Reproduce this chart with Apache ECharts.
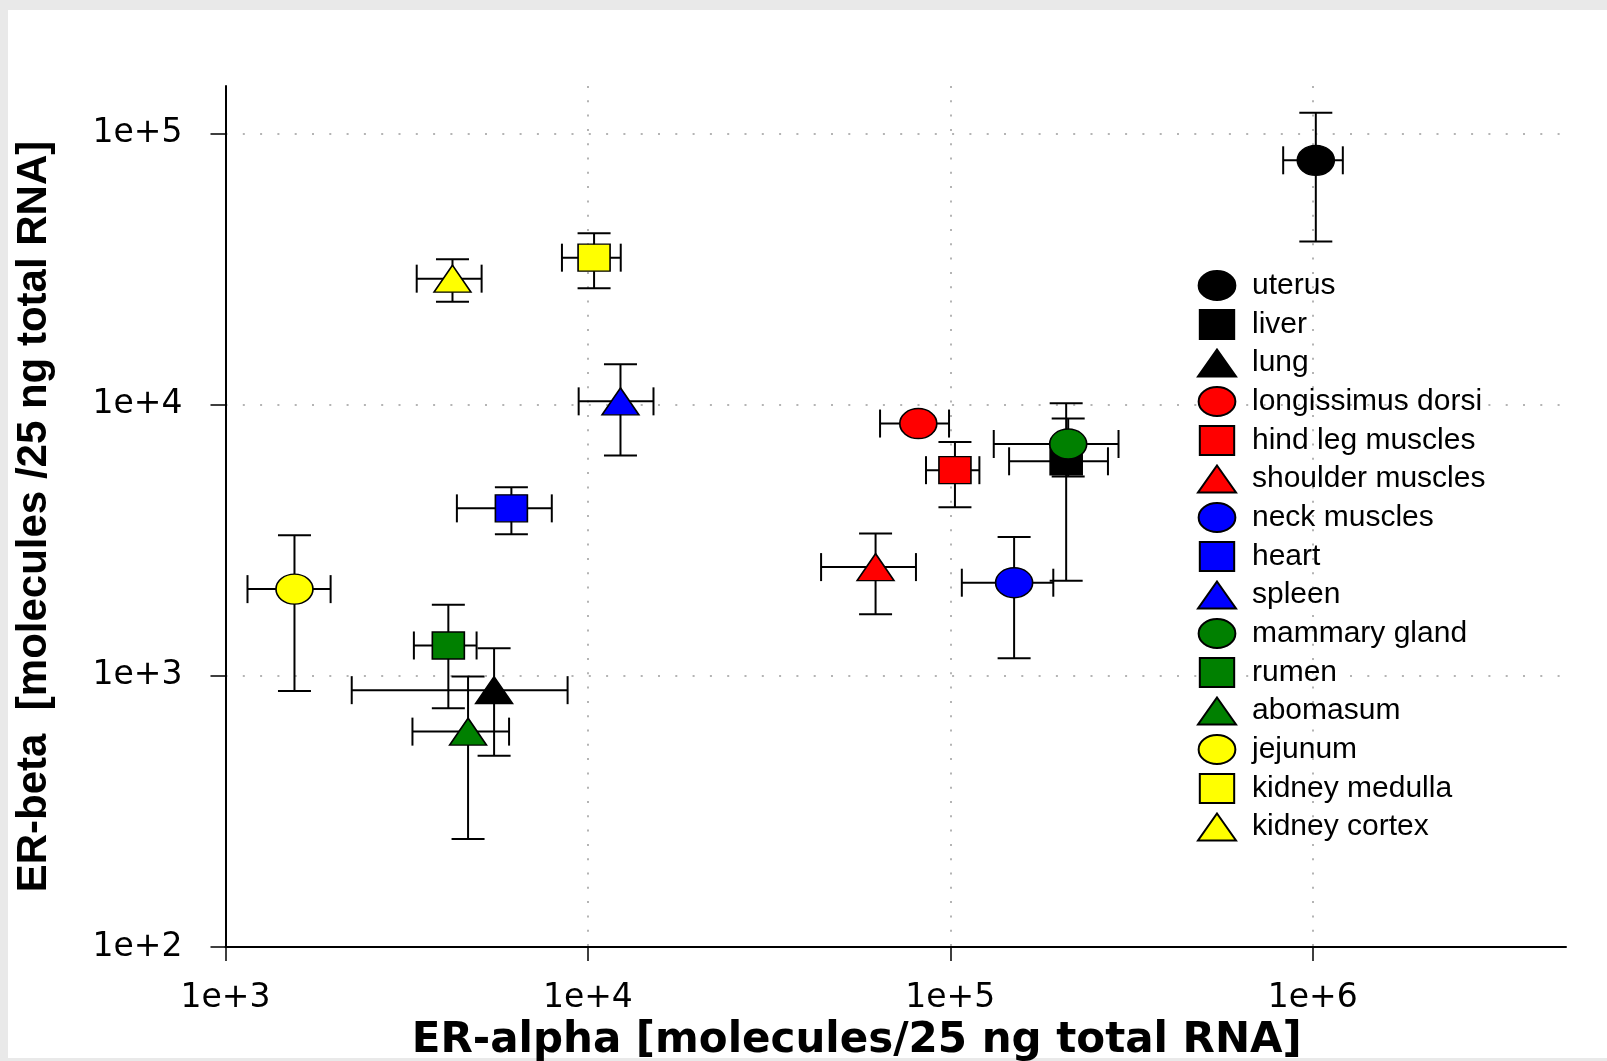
<!DOCTYPE html>
<html>
<head>
<meta charset="utf-8">
<title>ER-alpha vs ER-beta expression</title>
<script src="https://cdn.jsdelivr.net/npm/echarts@6/dist/echarts.min.js"></script>
<style>
  html, body { margin: 0; padding: 0; width: 1607px; height: 1061px; background: #e9e9e9; overflow: hidden; }
  #panel { position: absolute; left: 8px; top: 10px; width: 1599px; height: 1048px; background: #ffffff; }
  #chart { position: absolute; left: 0; top: 0; width: 1607px; height: 1061px; }
</style>
</head>
<body>
<div id="panel"></div>
<div id="chart"></div>
<script>
// Tissues, in legend order
const tissues = [
  'uterus', 'liver', 'lung',
  'longissimus dorsi', 'hind leg muscles', 'shoulder muscles',
  'neck muscles', 'heart', 'spleen',
  'mammary gland', 'rumen', 'abomasum',
  'jejunum', 'kidney medulla', 'kidney cortex'
];

// ER-alpha mean and SD [molecules / 25 ng total RNA]
const erAlpha   = [1020000, 208800, 5510, 81600, 103000, 62200, 150000, 6150, 12300, 211500, 4120, 4670, 1550, 10400, 4230];
const erAlphaSd = [191000,  63500,  3280, 17600, 17300,  18200, 42400,  1800, 2870,  79700,  810,  1390, 400,  1920,  860];

// ER-beta mean and SD [molecules / 25 ng total RNA]
const erBeta    = [79800, 6190, 886, 8530, 5740, 2520, 2207, 4150, 10300, 7170, 1295, 623, 2090, 34900, 29200];
const erBetaSd  = [39800, 3945, 378, 500,  1550, 830,  1045, 820,  3800,  1730, 535,  373, 1210, 8000,  5200];

// Decade tick values for both log axes
const xTicks = [1e3, 1e4, 1e5, 1e6];
const yTicks = [1e2, 1e3, 1e4, 1e5];

// Marker styling: one colour per tissue group, shapes cycle circle / square / triangle
const groupColors = ['#000000', '#ff0000', '#0000ff', '#008000', '#ffff00'];
const shapes = ['circle', 'rect', 'triangle'];
const shapeSizes = { circle: [37, 30], rect: [32, 27], triangle: [37, 27] };
const legendIcons = {
  circle: 'path://M0,15A19,15 0 1,0 38,15A19,15 0 1,0 0,15Z',
  rect: 'path://M0,0H32V27H0Z',
  triangle: 'path://M19,0L38,27H0Z'
};

const chart = echarts.init(document.getElementById('chart'), null, { renderer: 'canvas' });

function expLabel(v) {
  const e = Math.round(Math.log10(v));
  return '1e+' + e;
}

const scatterSeries = tissues.map((name, i) => {
  const shape = shapes[i % 3];
  return {
    name: name,
    type: 'scatter',
    z: 3,
    symbol: shape,
    symbolSize: shapeSizes[shape],
    itemStyle: {
      color: groupColors[Math.floor(i / 3)],
      borderColor: '#000',
      borderWidth: 1.5,
      opacity: 1
    },
    emphasis: { disabled: true },
    data: [[erAlpha[i], erBeta[i]]]
  };
});

// Mean +/- SD error bars in both directions
const errorData = tissues.map((name, i) => [erAlpha[i], erBeta[i], erAlphaSd[i], erBetaSd[i]]);

const errorSeries = {
  name: 'error bars',
  type: 'custom',
  z: 2,
  silent: true,
  encode: { x: 0, y: 1 },
  data: errorData,
  renderItem: function (params, api) {
    const x = api.value(0), y = api.value(1);
    const sx = api.value(2), sy = api.value(3);
    const left = api.coord([x - sx, y]);
    const right = api.coord([x + sx, y]);
    const top = api.coord([x, y + sy]);
    const bottom = api.coord([x, y - sy]);
    const capV = 14;   // half height of caps on the horizontal bars
    const capH = 16.5; // half width of caps on the vertical bars
    const style = { stroke: '#000', lineWidth: 2 };
    const line = (x1, y1, x2, y2) => ({ type: 'line', shape: { x1, y1, x2, y2 }, style });
    return {
      type: 'group',
      children: [
        line(left[0], left[1], right[0], right[1]),
        line(left[0], left[1] - capV, left[0], left[1] + capV),
        line(right[0], right[1] - capV, right[0], right[1] + capV),
        line(top[0], top[1], bottom[0], bottom[1]),
        line(top[0] - capH, top[1], top[0] + capH, top[1]),
        line(bottom[0] - capH, bottom[1], bottom[0] + capH, bottom[1])
      ]
    };
  }
};

const option = {
  animation: false,
  backgroundColor: 'transparent',
  grid: { left: 225.5, right: 41, top: 86, bottom: 114, containLabel: false, outerBoundsMode: 'none' },
  legend: {
    orient: 'vertical',
    left: 1197,
    top: 270,
    padding: 0,
    itemWidth: 38,
    itemHeight: 29,
    itemGap: 8.0,
    symbolKeepAspect: true,
    selectedMode: false,
    textStyle: {
      fontFamily: 'Liberation Sans, Arial, sans-serif',
      fontSize: 30,
      lineHeight: 30,
      color: '#000',
      padding: [0, 0, 0, 11]
    },
    data: tissues.map((name, i) => ({ name: name, icon: legendIcons[shapes[i % 3]] }))
  },
  xAxis: {
    type: 'log',
    logBase: 10,
    min: 1000,
    max: 5000000,
    name: 'ER-alpha [molecules/25 ng total RNA]',
    nameLocation: 'middle',
    nameGap: 70,
    nameTextStyle: {
      fontFamily: 'DejaVu Sans', fontWeight: 'bold', fontSize: 42, color: '#000',
      padding: [0, 78, 0, 0]
    },
    axisLine: { show: true, lineStyle: { color: '#000', width: 2 } },
    axisTick: { show: true, customValues: xTicks, length: 14, lineStyle: { color: '#000', width: 1.5 } },
    axisLabel: {
      customValues: xTicks,
      formatter: expLabel,
      margin: 35,
      fontFamily: 'DejaVu Sans',
      fontSize: 33,
      color: '#000'
    },
    splitLine: { show: true, lineStyle: { type: [2, 12.3], color: '#b4b4b4', width: 2 } },
    minorTick: { show: false },
    minorSplitLine: { show: false }
  },
  yAxis: {
    type: 'log',
    logBase: 10,
    min: 100,
    max: 150000,
    name: 'ER-beta  [molecules /25 ng total RNA]',
    nameLocation: 'middle',
    nameGap: 170,
    nameTextStyle: { fontFamily: 'Liberation Sans, Arial, sans-serif', fontWeight: 'bold', fontSize: 42, color: '#000' },
    axisLine: { show: true, lineStyle: { color: '#000', width: 2 } },
    axisTick: { show: true, customValues: yTicks, length: 15, lineStyle: { color: '#000', width: 1.5 } },
    axisLabel: {
      customValues: yTicks,
      formatter: expLabel,
      margin: 43,
      fontFamily: 'DejaVu Sans',
      fontSize: 33,
      color: '#000'
    },
    splitLine: { show: true, lineStyle: { type: [2, 15.3], color: '#b4b4b4', width: 2 } },
    minorTick: { show: false },
    minorSplitLine: { show: false }
  },
  series: [errorSeries].concat(scatterSeries)
};

chart.setOption(option);
</script>
</body>
</html>
